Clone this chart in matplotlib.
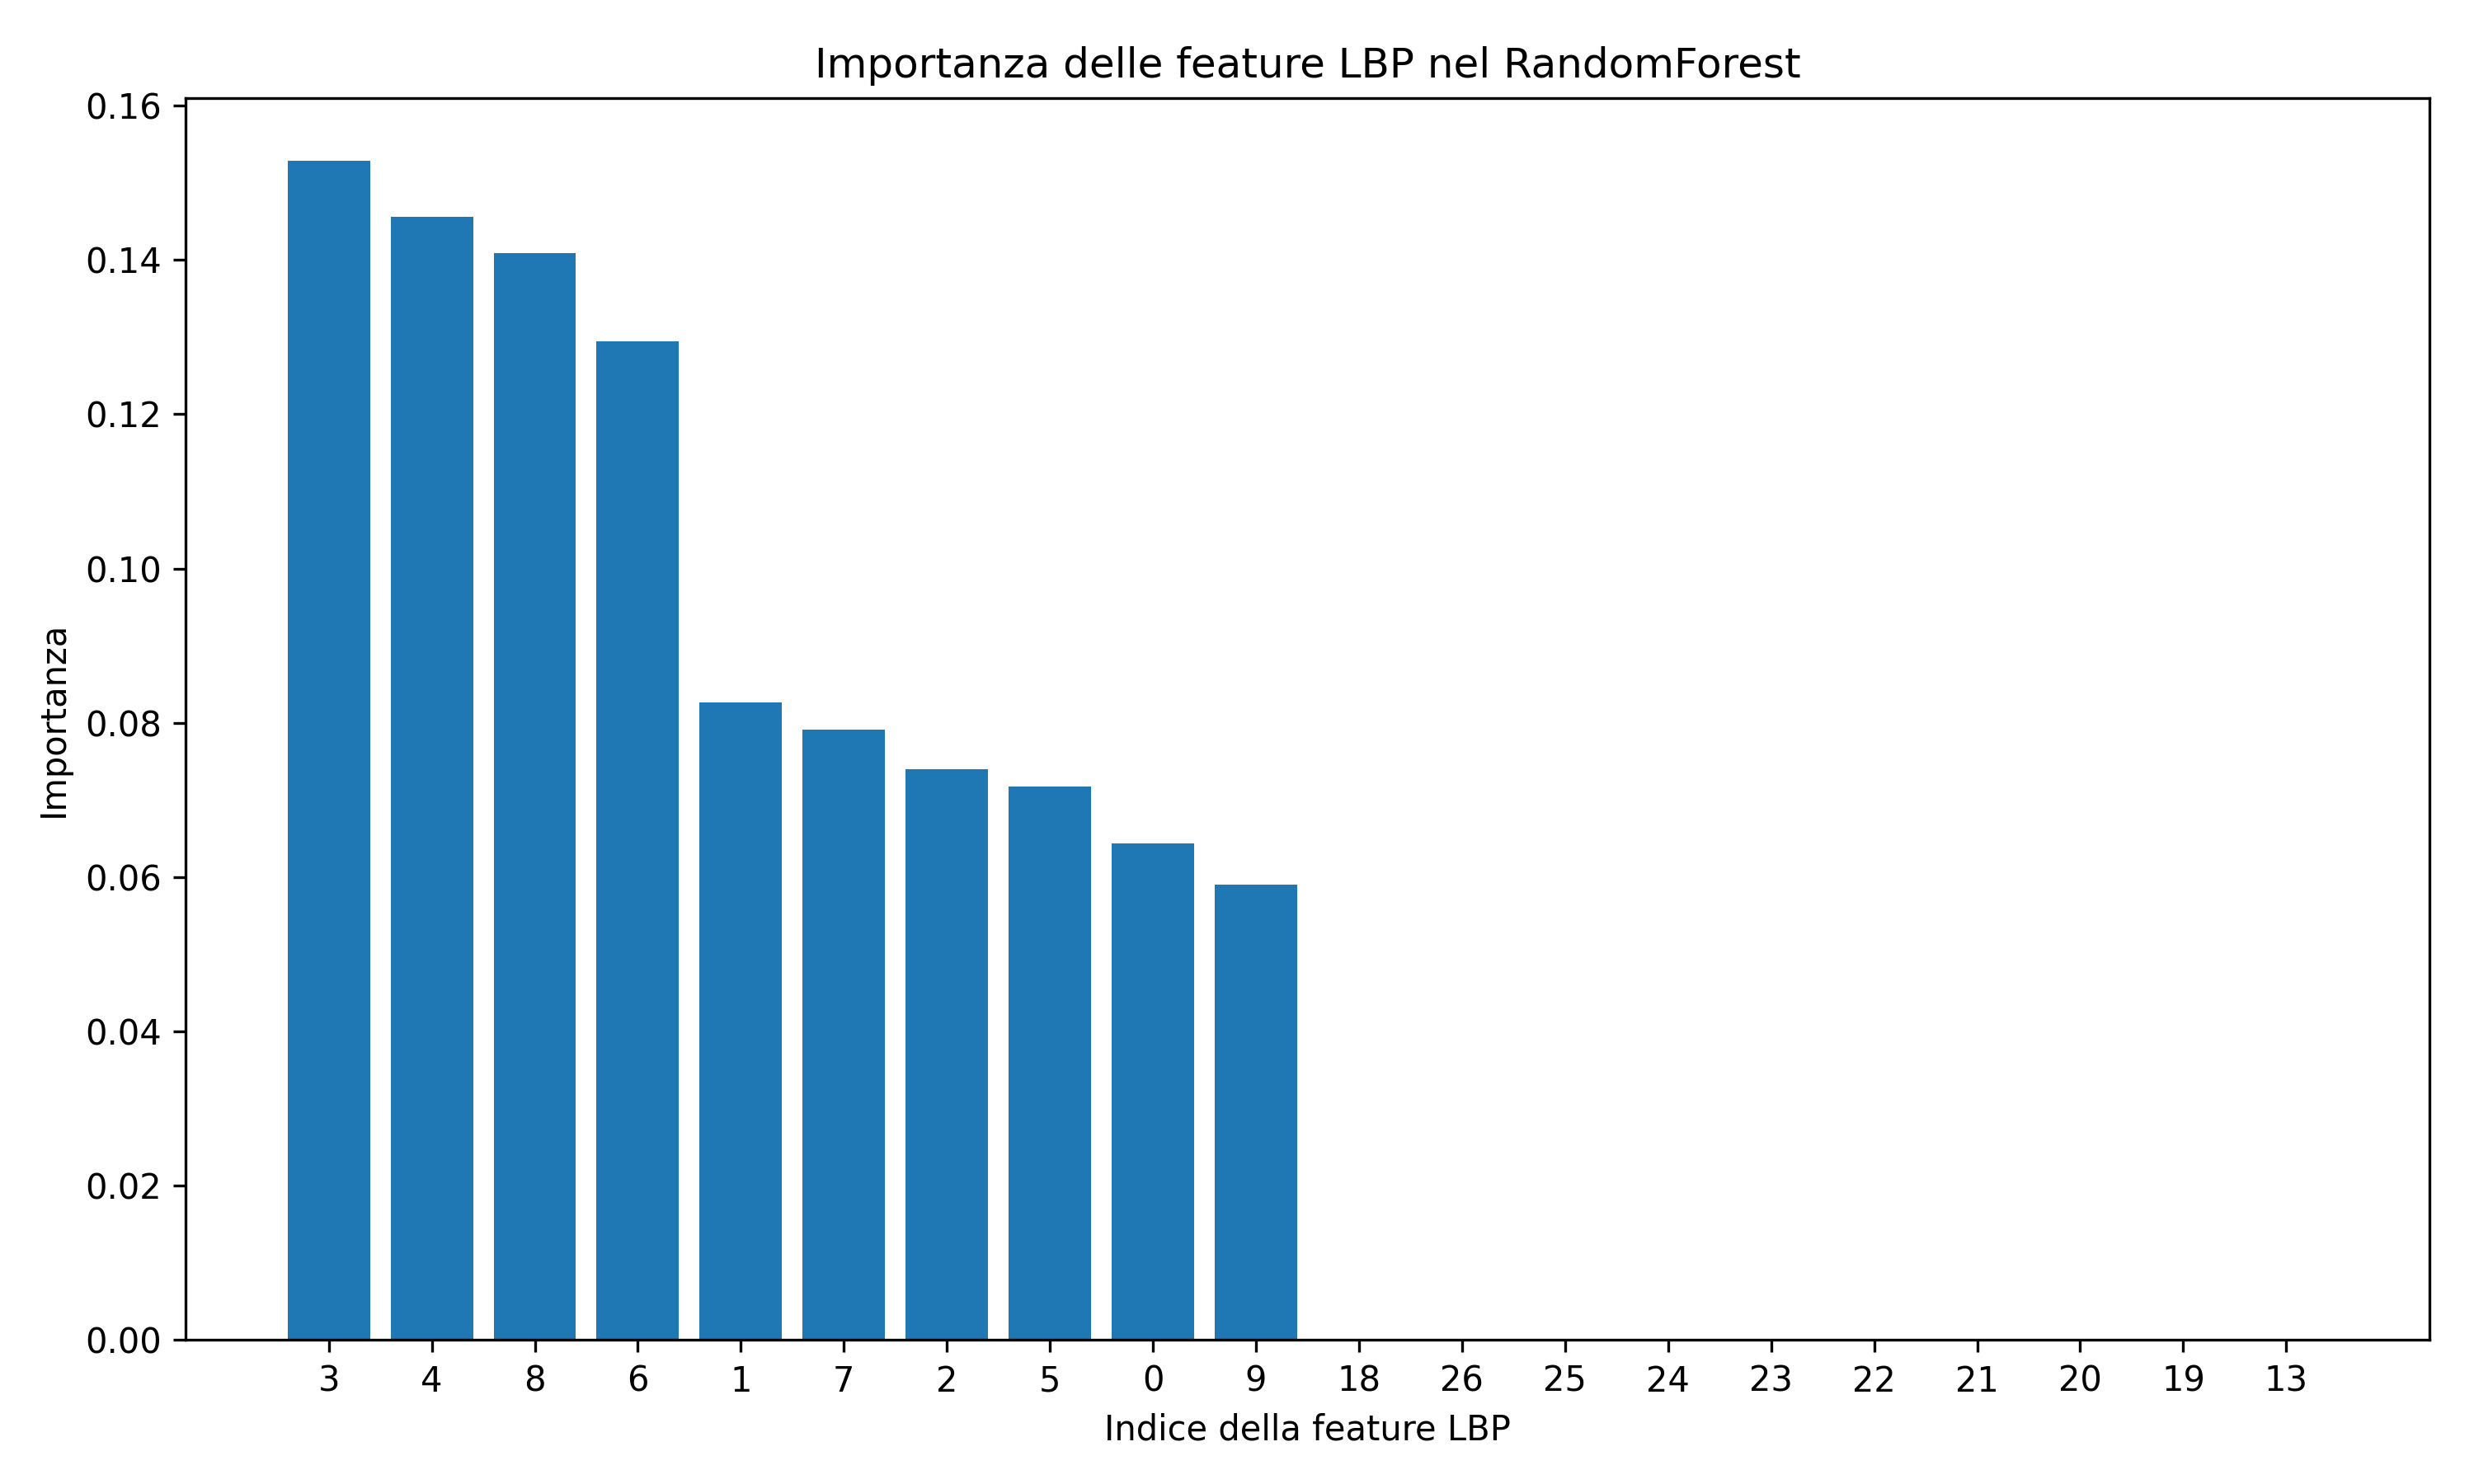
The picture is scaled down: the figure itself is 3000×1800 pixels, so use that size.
import matplotlib
matplotlib.use("Agg")
import matplotlib.pyplot as plt

labels = ["3","4","8","6","1","7","2","5","0","9","18","26","25","24","23","22","21","20","19","13"]
values = [0.1529,0.1456,0.1409,0.1295,0.0827,0.0791,0.0740,0.0718,0.0644,0.0590,0,0,0,0,0,0,0,0,0,0]

fig = plt.figure(figsize=(10,6), dpi=300)
ax = fig.add_axes([0.075, 0.097, 0.907, 0.837])
ax.bar(range(len(labels)), values, color="#1f77b4")
ax.set_xticks(range(len(labels)))
ax.set_xticklabels(labels)
ax.set_ylim(0, 0.161)
ax.set_xlabel("Indice della feature LBP")
ax.set_ylabel("Importanza")
ax.set_title("Importanza delle feature LBP nel RandomForest")
fig.savefig("out.png", dpi=300)
